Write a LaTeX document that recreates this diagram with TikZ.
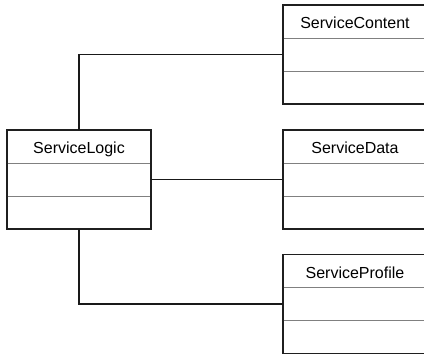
\documentclass[tikz,border=0pt]{standalone}
\usepackage{fontspec}
\setmainfont{Liberation Sans}
\begin{document}
\begin{tikzpicture}[x=1pt,y=-1pt,
  classbox/.style={minimum width=144pt,minimum height=99pt,inner sep=0pt,outer sep=0pt},
  frame/.style={draw=black!88,line width=1.2pt},
  classname/.style={font=\fontsize{16}{19}\selectfont,inner sep=0pt,anchor=base},
  divline/.style={draw=black!50,line width=1pt},
  link/.style={draw=black!90,line width=1.2pt}]
\useasboundingbox (0,0) rectangle (424,354);
\clip (0,0) rectangle (424,354);
\node[classbox] (logic) at (79,179.5) {};
\node[classbox] (content) at (355,54.5) {};
\node[classbox] (data) at (355,179.5) {};
\node[classbox] (profile) at (355,304) {};
\draw[frame] (logic.north west) rectangle (logic.south east);
\foreach \n in {content,data,profile}{
  \draw[frame] ([xshift=20pt]\n.north east) -- (\n.north west) -- (\n.south west) -- ([xshift=20pt]\n.south east);
}
\foreach \n/\t in {logic/ServiceLogic,content/ServiceContent,data/ServiceData,profile/ServiceProfile}{
  \node[classname] (\n name) at ([yshift=-23.5pt]\n.north) {\t};
  \draw[divline] ([yshift=-33pt,xshift=0.6pt]\n.north west) -- ([yshift=-33pt,xshift=-0.6pt]\n.north east);
  \draw[divline] ([yshift=-66pt,xshift=0.6pt]\n.north west) -- ([yshift=-66pt,xshift=-0.6pt]\n.north east);
}
\draw[link] (logic.north) |- (content.west);
\draw[link] (logic.east) -- (data.west);
\draw[link] (logic.south) |- (profile.west);
\end{tikzpicture}
\end{document}
